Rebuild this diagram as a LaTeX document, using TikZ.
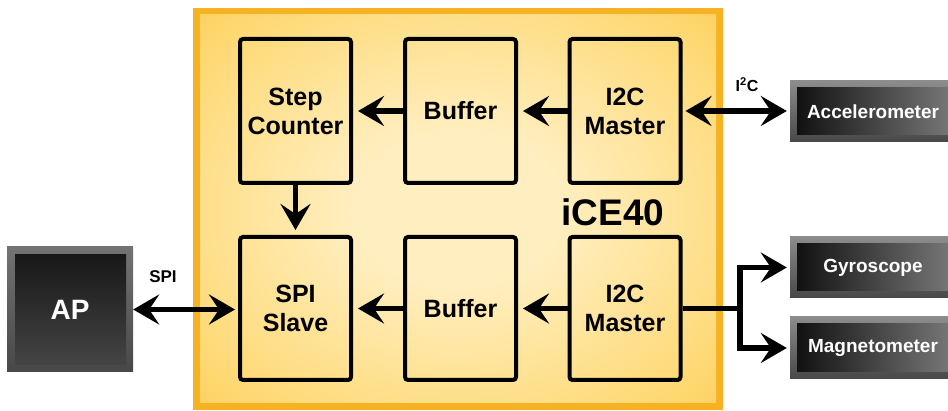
\documentclass[tikz,border=0pt]{standalone}
\usepackage{fontspec}
\setmainfont{Liberation Sans}
\usetikzlibrary{arrows.meta}
\definecolor{iceborder}{RGB}{247,178,35}
\definecolor{iceA}{RGB}{255,238,192}
\definecolor{iceB}{RGB}{254,218,120}
\definecolor{iceC}{RGB}{251,193,52}
\pgfdeclareradialshading{iceshade}{\pgfpoint{0bp}{0bp}}{color(0bp)=(iceA); color(10bp)=(iceA); color(30bp)=(iceB); color(47bp)=(iceC); color(50bp)=(iceC)}
\begin{document}
\begin{tikzpicture}[x=1pt,y=-1pt,
  blk/.style={draw=black, line width=4pt, rounded corners=3pt, minimum width=111pt,
    minimum height=144pt, align=center, inner sep=0pt,
    font=\bfseries\fontsize{25}{29}\selectfont},
  arr/.style={line width=5.5pt, -{Stealth[length=26pt,width=30pt,inset=10pt]}},
  darr/.style={line width=5.5pt, {Stealth[length=26pt,width=30pt,inset=10pt]}-{Stealth[length=26pt,width=30pt,inset=10pt]}},
  wire/.style={line width=5.5pt},
  sensor/.style={minimum width=166pt, minimum height=61pt, inner sep=0pt, text=white,
    font=\bfseries\fontsize{19}{22}\selectfont,
    top color=black!45, bottom color=black!72,
    path picture={\shade[left color=black!95, right color=black!52]
      ([shift={(7pt,-7pt)}]path picture bounding box.north west) rectangle
      ([shift={(-7pt,7pt)}]path picture bounding box.south east);}},
  chip/.style={minimum width=126pt, minimum height=125pt, inner sep=0pt, text=white,
    font=\bfseries\fontsize{28}{32}\selectfont,
    top color=black!55, bottom color=black!72,
    path picture={\shade[top color=black!92, bottom color=black!72]
      ([shift={(8pt,-8pt)}]path picture bounding box.north west) rectangle
      ([shift={(-7pt,7pt)}]path picture bounding box.south east);}},
  lbl/.style={font=\bfseries\fontsize{17}{20}\selectfont, inner sep=0pt}
]
\fill[white] (0,0) rectangle (948,411);
\useasboundingbox (0,0) rectangle (948,411);

% iCE40 area
\fill[iceborder] (193,8) rectangle (723,410);
\shade[shading=iceshade] (200,15) rectangle (716,403);

% blocks
\node[blk] (sc)   at (295.5,111) {Step\\Counter};
\node[blk] (buf1) at (460.5,111) {Buffer};
\node[blk] (i2c1) at (625,111)   {I2C\\Master};
\node[blk, minimum height=143pt] (spi)  at (295.5,308.5) {SPI\\Slave};
\node[blk, minimum height=143pt] (buf2) at (460.5,308.5) {Buffer};
\node[blk, minimum height=143pt] (i2c2) at (625,308.5)   {I2C\\Master};

\node[font=\bfseries\fontsize{37}{42}\selectfont, inner sep=0pt] (chipname) at (613,212) {iCE40};

% external parts
\node[chip] (ap) at (70,309.5) {AP};
\node[sensor] (acc)  at (873,111.5) {Accelerometer};
\node[sensor] (gyro) at (873,267.5) {Gyroscope};
\node[sensor, minimum height=62pt] (mag) at (873,348) {Magnetometer};

% labels
\node[lbl] (spilbl) at (163,277) {SPI};
\node[lbl, font=\bfseries\fontsize{16}{19}\selectfont] (i2clbl) at (747,85) {I\textsuperscript{2}C};

% internal connectors
\draw[arr, shorten >=5pt] (buf1.west) -- (sc.east);
\draw[arr, shorten >=5pt] (i2c1.west) -- (buf1.east);
\draw[arr, shorten >=5pt] (buf2.west) -- (spi.east);
\draw[arr, shorten >=5pt] (i2c2.west) -- (buf2.east);
\draw[arr, shorten >=5pt] (sc.south) -- (spi.north);

% external connectors
\draw[darr, shorten >=3pt] (ap.east) -- (ap.east -| spi.west);
\draw[darr, shorten <=3pt, shorten >=3pt] (i2c1.east) -- (i2c1.east -| acc.west);
\coordinate (br) at (740,308.5);
\draw[wire] (i2c2.east) -- (br);
\draw[wire, line cap=rect] (br |- gyro.west) -- (br |- mag.west);
\draw[arr, shorten >=3pt] (br |- gyro.west) -- (gyro.west);
\draw[arr, shorten >=3pt] (br |- mag.west) -- (mag.west);
\end{tikzpicture}
\end{document}
